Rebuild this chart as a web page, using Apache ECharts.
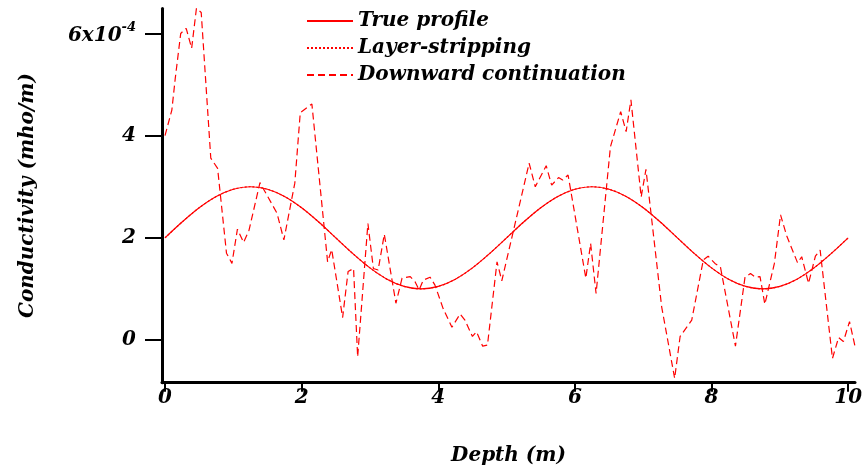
<!DOCTYPE html>
<html><head><meta charset="utf-8">
<script src="https://cdn.jsdelivr.net/npm/echarts@6/dist/echarts.min.js"></script>
<style>html,body{margin:0;padding:0;background:#fff}#c{width:862px;height:473px}</style>
</head><body><div id="c"></div>
<script>
// True profile (sampled every 0.25 m)
const depthTrue = [0,0.25,0.5,0.75,1,1.25,1.5,1.75,2,2.25,2.5,2.75,3,3.25,3.5,3.75,4,4.25,4.5,4.75,5,5.25,5.5,5.75,6,6.25,6.5,6.75,7,7.25,7.5,7.75,8,8.25,8.5,8.75,9,9.25,9.5,9.75,10];
const condTrue = [2,2.309,2.588,2.809,2.951,3,2.951,2.809,2.588,2.309,2,1.691,1.412,1.191,1.049,1,1.049,1.191,1.412,1.691,2,2.309,2.588,2.809,2.951,3,2.951,2.809,2.588,2.309,2,1.691,1.412,1.191,1.049,1,1.049,1.191,1.412,1.691,2];
// Layer-stripping (coincides with the true profile)
const condLayer = [2,2.309,2.588,2.809,2.951,3,2.951,2.809,2.588,2.309,2,1.691,1.412,1.191,1.049,1,1.049,1.191,1.412,1.691,2,2.309,2.588,2.809,2.951,3,2.951,2.809,2.588,2.309,2,1.691,1.412,1.191,1.049,1,1.049,1.191,1.412,1.691,2];
// Downward continuation
const depthDown = [0,0.10,0.15,0.23,0.31,0.39,0.46,0.53,0.67,0.77,0.90,0.98,1.06,1.15,1.23,1.39,1.64,1.74,1.90,1.98,2.15,2.38,2.44,2.60,2.68,2.76,2.82,2.97,3.05,3.12,3.21,3.38,3.47,3.59,3.66,3.72,3.78,3.88,3.95,4.07,4.20,4.32,4.39,4.50,4.56,4.65,4.72,4.86,4.93,5.33,5.42,5.58,5.66,5.76,5.82,5.90,6.16,6.23,6.31,6.52,6.67,6.75,6.82,6.97,7.04,7.12,7.27,7.46,7.54,7.71,7.88,7.95,8.05,8.13,8.35,8.49,8.57,8.64,8.71,8.78,8.92,9.01,9.10,9.26,9.32,9.42,9.52,9.59,9.77,9.86,9.93,10.02,10.10];
const condDown = [4.00,4.50,5.12,6.00,6.10,5.71,6.49,6.41,3.56,3.36,1.70,1.50,2.17,1.91,2.15,3.08,2.48,1.96,3.07,4.45,4.62,1.53,1.77,0.44,1.34,1.40,-0.33,2.28,1.40,1.37,2.07,0.72,1.21,1.24,1.14,0.98,1.17,1.23,1.08,0.62,0.25,0.51,0.39,0.07,0.16,-0.12,-0.10,1.53,1.16,3.46,3.00,3.41,3.03,3.18,3.13,3.23,1.21,1.89,0.91,3.78,4.47,4.08,4.70,2.80,3.34,2.41,0.65,-0.75,0.07,0.39,1.57,1.64,1.50,1.43,-0.12,1.23,1.30,1.23,1.24,0.70,1.50,2.45,2.04,1.51,1.63,1.11,1.64,1.76,-0.36,0.05,-0.03,0.36,-0.12];
const xTicks = [0,2,4,6,8,10];
const yTicks = [0,2,4,6];
const seriesNames = ['True profile','Layer-stripping','Downward continuation'];

const zip = (a,b) => a.map((v,i)=>[v,b[i]]);
const FONT = 'DejaVu Serif';
const txt = {fontFamily: FONT, fontWeight: 'bold', fontStyle: 'italic', color: '#000'};

const chart = echarts.init(document.getElementById('c'), null, {renderer: 'canvas'});
chart.setOption({
  animation: false,
  backgroundColor: '#fff',
  grid: {left: 162, right: 7, top: 8.4, bottom: 90.3, containLabel: false, outerBoundsMode: 'none'},
  legend: {
    orient: 'vertical', left: 301, top: 6,
    itemWidth: 46, itemHeight: 12, itemGap: 7,
    itemStyle: {opacity: 0},
    data: seriesNames,
    textStyle: Object.assign({fontSize: 20, lineHeight: 20, padding: [0,0,0,0]}, txt)
  },
  xAxis: {
    type: 'value', min: -0.044, max: 10.1,
    name: 'Depth (m)', nameLocation: 'middle', nameGap: 63,
    nameTextStyle: Object.assign({fontSize: 20}, txt),
    axisLine: {onZero: false, lineStyle: {color: '#000', width: 3}},
    axisTick: {customValues: xTicks, length: 9, lineStyle: {color: '#000', width: 2}},
    axisLabel: {customValues: xTicks, margin: 5, fontSize: 20, fontFamily: FONT, fontWeight: 'bold', fontStyle: 'italic', color: '#000'},
    splitLine: {show: false}
  },
  yAxis: {
    type: 'value', min: -0.835, max: 6.49,
    name: 'Conductivity (mho/m)', nameLocation: 'middle', nameRotate: 90, nameGap: 124,
    nameTextStyle: Object.assign({fontSize: 20}, txt),
    axisLine: {onZero: false, lineStyle: {color: '#000', width: 3}},
    axisTick: {customValues: yTicks, length: 17, lineStyle: {color: '#000', width: 2}},
    axisLabel: {
      customValues: yTicks, margin: 26,
      fontSize: 20, fontFamily: FONT, fontWeight: 'bold', fontStyle: 'italic', color: '#000',
      formatter: v => v === 6 ? '{b|6x10}{s|-4}' : String(v),
      rich: {
        b: {fontSize: 20, fontFamily: FONT, fontWeight: 'bold', fontStyle: 'italic', color: '#000', lineHeight: 24, verticalAlign: 'bottom'},
        s: {fontSize: 13, fontFamily: FONT, fontWeight: 'bold', fontStyle: 'italic', color: '#000', lineHeight: 24, verticalAlign: 'top'}
      }
    },
    splitLine: {show: false}
  },
  series: [
    {name: seriesNames[0], type: 'line', data: zip(depthTrue, condTrue), symbol: 'none', smooth: 0.3,
     lineStyle: {color: '#ff0000', width: 1.2, type: 'solid'}, itemStyle: {color: '#ff0000'}},
    {name: seriesNames[1], type: 'line', data: zip(depthTrue, condLayer), symbol: 'none', smooth: 0.3,
     lineStyle: {color: '#ff0000', width: 1.2, type: [2,2]}, itemStyle: {color: '#ff0000'}},
    {name: seriesNames[2], type: 'line', data: zip(depthDown, condDown), symbol: 'none',
     lineStyle: {color: '#ff0000', width: 1.2, type: [7,4]}, itemStyle: {color: '#ff0000'}}
  ]
});
</script>
</body></html>
